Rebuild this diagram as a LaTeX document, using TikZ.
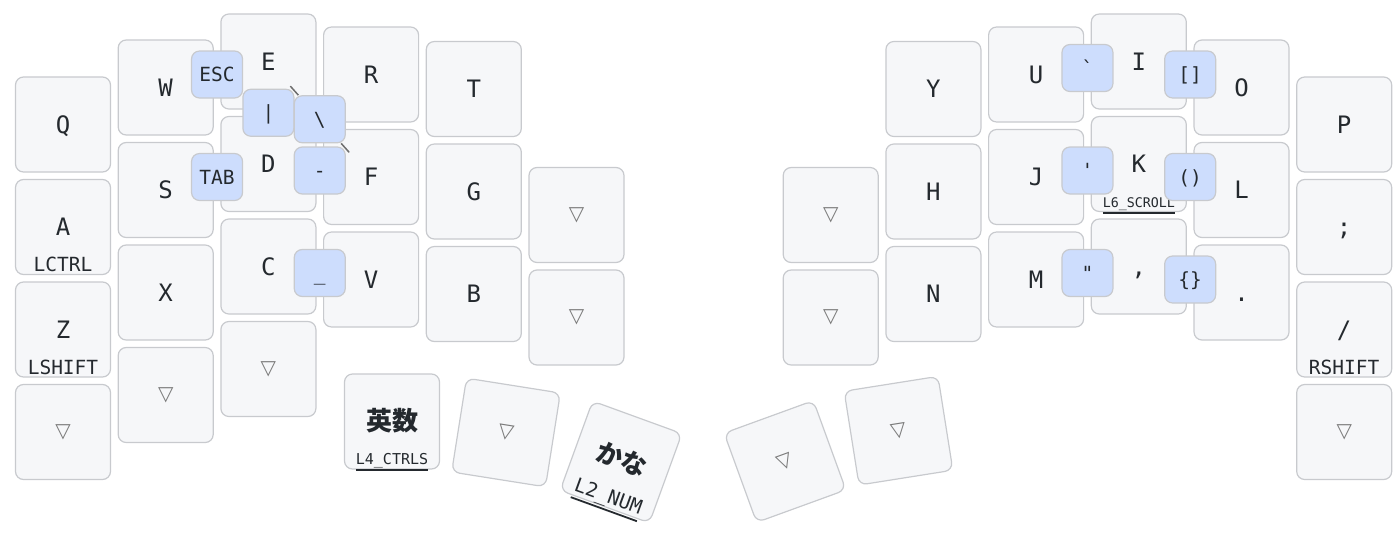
\documentclass[tikz,border=0pt]{standalone}
\usepackage{fontspec}
\setmonofont{DejaVu Sans Mono}
\newfontfamily\symfont{DejaVu Sans}
\newfontfamily\cjk{Noto Sans CJK JP}
\usetikzlibrary{calc}
\pgfdeclarelayer{combos}
\pgfsetlayers{main,combos}
\definecolor{keyfill}{HTML}{F6F7F9}
\definecolor{keyline}{HTML}{C8CACE}
\definecolor{combofill}{HTML}{CDDDFD}
\definecolor{txt}{HTML}{24292E}
\definecolor{transgray}{HTML}{7A7A7A}
\definecolor{dendgray}{HTML}{6E6E6E}
\newcommand\lnk[1]{\leavevmode\vtop{\hbox{#1}\kern1.2pt\hrule height1.8pt}}
\tikzset{
  keybox/.style={draw=keyline, fill=keyfill, line width=1.2pt, rounded corners=8pt,
    minimum width=95pt, minimum height=95pt, inner sep=0pt},
  combobox/.style={draw=keyline, fill=combofill, line width=1.2pt, rounded corners=8pt,
    minimum width=51pt, minimum height=47pt, inner sep=0pt},
  taplbl/.style={anchor=base, inner sep=0pt, text=txt, font=\ttfamily\fontsize{24}{24}\selectfont},
  holdlbl/.style={anchor=base, inner sep=0pt, text=txt, font=\ttfamily\fontsize{19.5}{20}\selectfont},
  combolbl/.style={anchor=base, inner sep=0pt, text=txt, font=\ttfamily\fontsize{19.5}{20}\selectfont},
  translbl/.style={anchor=center, inner sep=0pt, text=transgray, font=\symfont\fontsize{20}{20}\selectfont},
  cjklbl/.style={anchor=center, inner sep=0pt, text=txt, font=\cjk\bfseries\fontsize{26}{26}\selectfont},
  dendron/.style={draw=dendgray, line width=1.5pt, shorten >=33pt},
}
% name, x, y, label
\newcommand\KeyT[4]{\node[keybox] (#1) at (#2,#3) {};
  \node[taplbl] (#1t) at ($(#1)+(0,8.75)$) {#4};}
% name, x, y, tap, hold
\newcommand\KeyH[5]{\node[keybox] (#1) at (#2,#3) {};
  \node[taplbl] (#1t) at ($(#1)+(0,8.75)$) {#4};
  \node[holdlbl] (#1h) at ($(#1)+(0,44.5)$) {#5};}
% name, x, y
\newcommand\KeyTr[3]{\node[keybox] (#1) at (#2,#3) {};
  \node[translbl] (#1t) at (#1) {▽};}
% name, x, y, label
\newcommand\Combo[4]{\node[combobox] (#1) at (#2,#3) {};
  \node[combolbl] (#1t) at ($(#1)+(0,7.1)$) {#4};}
\begin{document}
\begin{tikzpicture}[x=1pt, y=-1pt]
\useasboundingbox (0,0) rectangle (1400,533);
% ---------- left half ----------
\KeyT{kQ}{63}{124.5}{Q}
\KeyH{kA}{63}{227}{A}{LCTRL}
\KeyH{kZ}{63}{329.5}{Z}{LSHIFT}
\KeyTr{kLa}{63}{432}
\KeyT{kW}{165.7}{87.5}{W}
\KeyT{kS}{165.7}{190}{S}
\KeyT{kX}{165.7}{292.5}{X}
\KeyTr{kLb}{165.7}{395}
\KeyT{kE}{268.4}{61.5}{E}
\KeyT{kD}{268.4}{164}{D}
\KeyT{kC}{268.4}{266.5}{C}
\KeyTr{kLc}{268.4}{369}
\KeyT{kR}{371.1}{74.5}{R}
\KeyT{kF}{371.1}{177}{F}
\KeyT{kV}{371.1}{279.5}{V}
\KeyT{kT}{473.8}{89}{T}
\KeyT{kG}{473.8}{191.5}{G}
\KeyT{kB}{473.8}{294}{B}
\KeyTr{kLd}{576.5}{215}
\KeyTr{kLe}{576.5}{317.5}
% left thumbs
\node[keybox] (kEisu) at (392,421.5) {};
\node[cjklbl] (kEisut) at (392,420.5) {英数};
\node[holdlbl, font=\ttfamily\fontsize{15}{16}\selectfont] (kEisuh) at (392,464.5) {\lnk{L4\_CTRLS}};
\begin{scope}[shift={(506,432.5)}, rotate=-9, transform shape]
  \node[keybox] (kLf) at (0,0) {};
  \node[translbl] (kLft) at (0,0) {▽};
\end{scope}
\begin{scope}[shift={(621,462)}, rotate=-20, transform shape]
  \node[keybox] (kKana) at (0,0) {};
  \node[cjklbl] (kKanat) at (0,-3) {かな};
  \node[holdlbl] (kKanah) at (0,43.5) {\lnk{L2\_NUM}};
\end{scope}
% ---------- right half ----------
\KeyT{kP}{1344.2}{124.5}{P}
\KeyT{kSc}{1344.2}{227}{;}
\KeyH{kSl}{1344.2}{329.5}{/}{RSHIFT}
\KeyTr{kRa}{1344.2}{432}
\KeyT{kO}{1241.5}{87.5}{O}
\KeyT{kL}{1241.5}{190}{L}
\KeyT{kDot}{1241.5}{292.5}{.}
\KeyT{kI}{1138.8}{61.5}{I}
\node[keybox] (kK) at (1138.8,164) {};
\node[taplbl] (kKt) at ($(kK)+(0,8.75)$) {K};
\node[holdlbl, font=\ttfamily\fontsize{13.3}{14}\selectfont] (kKh) at ($(kK)+(0,43.5)$) {\lnk{L6\_SCROLL}};
\KeyT{kCm}{1138.8}{266.5}{,}
\KeyT{kU}{1036.1}{74.5}{U}
\KeyT{kJ}{1036.1}{177}{J}
\KeyT{kM}{1036.1}{279.5}{M}
\KeyT{kY}{933.4}{89}{Y}
\KeyT{kH}{933.4}{191.5}{H}
\KeyT{kN}{933.4}{294}{N}
\KeyTr{kRd}{830.7}{215}
\KeyTr{kRe}{830.7}{317.5}
% right thumbs
\begin{scope}[shift={(785,461.5)}, rotate=20, transform shape]
  \node[keybox] (kRf) at (0,0) {};
  \node[translbl] (kRft) at (0,0) {▽};
\end{scope}
\begin{scope}[shift={(898.5,430.7)}, rotate=9, transform shape]
  \node[keybox] (kRg) at (0,0) {};
  \node[translbl] (kRgt) at (0,0) {▽};
\end{scope}
% ---------- combos (top layer) ----------
\begin{pgfonlayer}{combos}
\Combo{cEsc}{217.05}{74.5}{ESC}
\Combo{cTab}{217.05}{177}{TAB}
\Combo{cPipe}{268.4}{112.75}{|}
\Combo{cBs}{319.75}{119.25}{\textbackslash}
\Combo{cMin}{319.75}{170.5}{-}
\Combo{cUnd}{319.75}{273}{\_}
\Combo{cGrv}{1087.45}{68}{`}
\Combo{cBrk}{1190.15}{74.5}{[]}
\Combo{cApo}{1087.45}{170.5}{'}
\Combo{cPar}{1190.15}{177}{()}
\Combo{cQuo}{1087.45}{273}{"}
\Combo{cBrc}{1190.15}{279.5}{\{\}}
\end{pgfonlayer}
% ---------- dendrons (above keys, below combos) ----------
\draw[dendron] (cBs) -- (kE.center);
\draw[dendron] (cBs) -- (kF.center);
\end{tikzpicture}
\end{document}
